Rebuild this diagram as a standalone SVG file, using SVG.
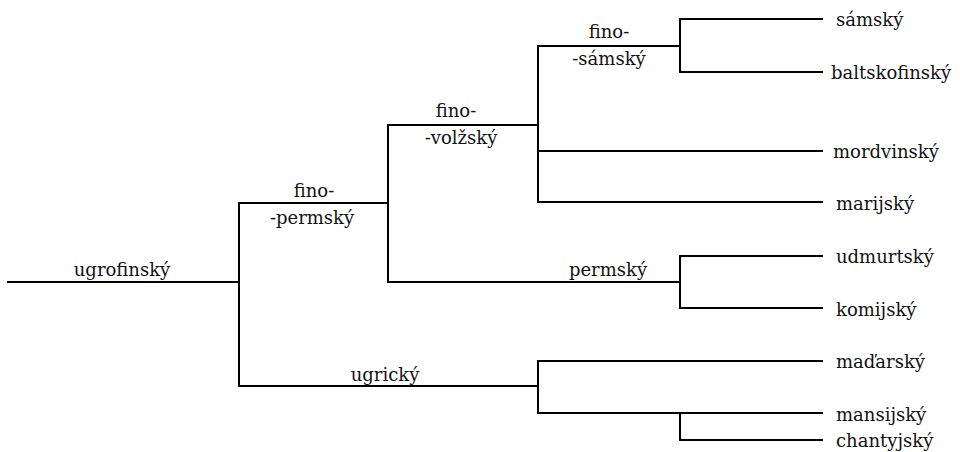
<svg xmlns="http://www.w3.org/2000/svg" width="960" height="452" viewBox="0 0 960 452">
<style>
.c{fill:none;stroke:#000;stroke-width:2;stroke-linecap:square}
text{font-family:'DejaVu Serif','Liberation Serif',serif;font-size:18px;fill:#111}
.m{text-anchor:middle}
</style>
<rect width="960" height="452" fill="#fff"/>
<g id="connectors">
<path class="c" d="M8 282H239M239 203V386M239 203H388M239 386H538"/>
<path class="c" d="M388 125V282M388 125H538M388 282H680"/>
<path class="c" d="M538 46V202M538 46H680M538 151H822M538 202H822"/>
<path class="c" d="M680 19V72M680 19H822M680 72H822"/>
<path class="c" d="M680 256V308M680 256H822M680 308H822"/>
<path class="c" d="M538 361V413M538 361H822M538 413H822M680 413V440H822"/>
</g>
<g id="ugrofinsky"><text class="m" x="122" y="276">ugrofinský</text></g>
<g id="fino-permsky"><text class="m" x="314" y="197">fino-</text><text class="m" x="312" y="224">-permský</text></g>
<g id="fino-volzsky"><text class="m" x="456" y="117">fino-</text><text class="m" x="461" y="144">-volžský</text></g>
<g id="fino-samsky"><text class="m" x="609" y="38">fino-</text><text class="m" x="609" y="65">-sámský</text></g>
<g id="permsky"><text class="m" x="608" y="276">permský</text></g>
<g id="ugricky"><text class="m" x="385" y="381">ugrický</text></g>
<g id="samsky"><text x="836" y="26">sámský</text></g>
<g id="baltskofinsky"><text x="831" y="79">baltskofinský</text></g>
<g id="mordvinsky"><text x="833" y="158">mordvinský</text></g>
<g id="marijsky"><text x="836" y="210">marijský</text></g>
<g id="udmurtsky"><text x="836" y="263">udmurtský</text></g>
<g id="komijsky"><text x="836" y="316">komijský</text></g>
<g id="madarsky"><text x="836" y="368">maďarský</text></g>
<g id="mansijsky"><text x="836" y="421">mansijský</text></g>
<g id="chantyjsky"><text x="836" y="447">chantyjský</text></g>
</svg>
